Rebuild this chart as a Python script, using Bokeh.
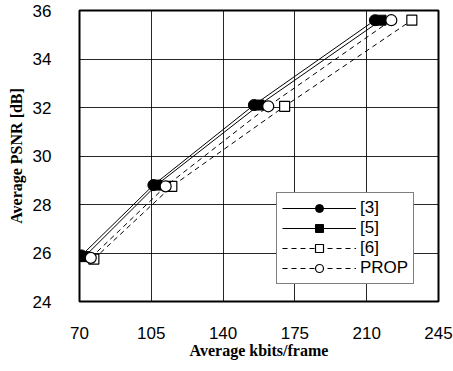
from bokeh.plotting import figure
from bokeh.models import FixedTicker, Range1d, Legend, LegendItem
from bokeh.embed import file_html
from bokeh.resources import INLINE

x_ticks = [70, 105, 140, 175, 210, 245]
y_ticks = [24, 26, 28, 30, 32, 34, 36]

x_ref3 = [71, 106, 155, 214]
y_ref3 = [25.9, 28.8, 32.1, 35.6]
x_ref5 = [72.5, 107.5, 157.5, 217]
y_ref5 = [25.85, 28.8, 32.1, 35.6]
x_ref6 = [77, 115, 170, 232]
y_ref6 = [25.75, 28.75, 32.05, 35.6]
x_prop = [75.5, 112, 162, 222]
y_prop = [25.8, 28.75, 32.05, 35.6]

p = figure(width=453, height=371, output_backend="svg", toolbar_location=None,
           x_range=Range1d(70, 245), y_range=Range1d(24, 36),
           min_border_left=79, min_border_right=15, min_border_top=10, min_border_bottom=70)

p.outline_line_color = "black"
p.outline_line_width = 2
p.background_fill_color = "white"
p.border_fill_color = "white"

for ax in (p.xaxis[0], p.yaxis[0]):
    ax.axis_line_color = None
    ax.major_tick_line_color = None
    ax.minor_tick_line_color = None
    ax.major_label_text_font = "Liberation Sans"
    ax.major_label_text_font_size = "17px"
    ax.major_label_text_color = "black"
    ax.axis_label_text_font = "Liberation Serif"
    ax.axis_label_text_font_style = "bold"
    ax.axis_label_text_font_size = "16px"
    ax.axis_label_text_color = "black"

p.xaxis.ticker = FixedTicker(ticks=x_ticks)
p.yaxis.ticker = FixedTicker(ticks=y_ticks)
p.xaxis.axis_label = "Average kbits/frame"
p.yaxis.axis_label = "Average PSNR [dB]"
p.xaxis.major_label_standoff = 19
p.yaxis.major_label_standoff = 22
p.xaxis.axis_label_standoff = 0
p.yaxis.axis_label_standoff = 5

p.xgrid.ticker = FixedTicker(ticks=x_ticks)
p.ygrid.ticker = FixedTicker(ticks=y_ticks)
p.grid.grid_line_color = "black"
p.grid.grid_line_width = 1
p.grid.grid_line_alpha = 0.85

l3 = p.line(x_ref3, y_ref3, line_color="black", line_width=1)
m3 = p.scatter(x_ref3, y_ref3, marker="circle", size=11, fill_color="black", line_color="black")
l5 = p.line(x_ref5, y_ref5, line_color="black", line_width=1)
m5 = p.scatter(x_ref5, y_ref5, marker="square", size=10, fill_color="black", line_color="black")
l6 = p.line(x_ref6, y_ref6, line_color="black", line_width=1, line_dash="5 4")
m6 = p.scatter(x_ref6, y_ref6, marker="square", size=10, fill_color="white", line_color="black", line_width=1.2)
lp = p.line(x_prop, y_prop, line_color="black", line_width=1, line_dash="5 4")
mp = p.scatter(x_prop, y_prop, marker="circle", size=11, fill_color="white", line_color="black", line_width=1.2)

legend = Legend(items=[
    LegendItem(label="[3]", renderers=[l3, m3]),
    LegendItem(label="[5]", renderers=[l5, m5]),
    LegendItem(label="[6]", renderers=[l6, m6]),
    LegendItem(label="PROP", renderers=[lp, mp]),
], location=(197, 17))
legend.label_text_font = "Liberation Sans"
legend.label_text_font_size = "17px"
legend.label_text_color = "black"
legend.glyph_width = 74
legend.glyph_height = 20
legend.label_height = 20
legend.spacing = 0
legend.padding = 5
legend.margin = 0
legend.label_standoff = 4
legend.border_line_color = "black"
legend.border_line_width = 1.5
legend.background_fill_alpha = 1.0
p.add_layout(legend, "center")

open("out.html", "w").write(file_html(p, INLINE))
